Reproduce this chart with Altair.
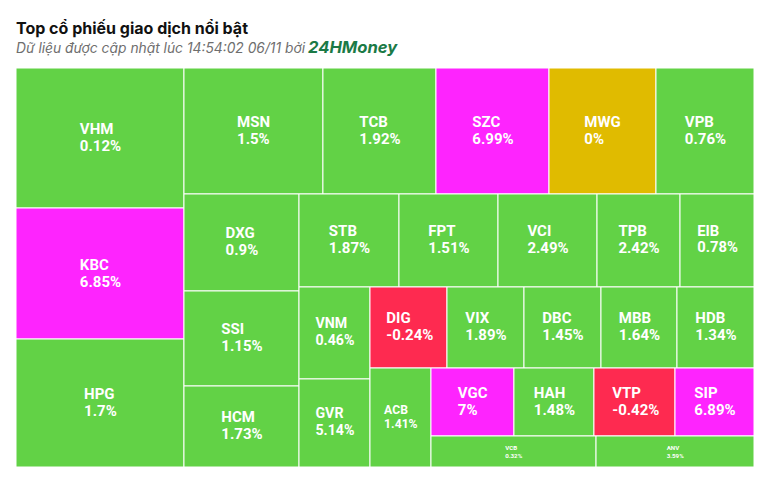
import altair as alt
import pandas as pd

# ---- data ----
tickers = ["VHM", "KBC", "HPG", "MSN", "TCB", "SZC", "MWG", "VPB", "DXG", "SSI",
           "HCM", "STB", "FPT", "VCI", "TPB", "EIB", "VNM", "GVR", "DIG", "VIX",
           "DBC", "MBB", "HDB", "ACB", "VGC", "HAH", "VTP", "SIP", "VCB", "ANV"]
changes = [0.12, 6.85, 1.7, 1.5, 1.92, 6.99, 0, 0.76, 0.9, 1.15,
           1.73, 1.87, 1.51, 2.49, 2.42, 0.78, 0.46, 5.14, -0.24, 1.89,
           1.45, 1.64, 1.34, 1.41, 7, 1.48, -0.42, 6.89, 0.32, 3.59]
# relative traded value (size of each tile)
values = [235.2, 220.1, 215.0, 175.1, 142.4, 142.4, 134.8, 123.5, 111.6, 109.3,
          93.2, 93.0, 92.1, 92.1, 77.2, 68.8, 65.3, 62.5, 62.4, 62.4,
          62.4, 61.6, 62.4, 60.4, 56.4, 54.4, 55.1, 53.7, 51.2, 49.0]

W, H = 738, 399


def status(c):
    if c >= 6.8:
        return "Trần"
    if c == 0:
        return "Tham chiếu"
    if c < 0:
        return "Giảm"
    return "Tăng"


def squarified(vals, x0, y0, w, h):
    """Squarified treemap with alternating strip direction (starts with a column)."""
    total = sum(vals)
    areas = [v * w * h / total for v in vals]
    rects = []
    vertical = True
    i, n = 0, len(areas)

    def worst(row, vert, w, h):
        s = sum(row)
        if vert:
            sw = s / h
            return max(max(sw / (a / sw), (a / sw) / sw) for a in row)
        sh = s / w
        return max(max(sh / (a / sh), (a / sh) / sh) for a in row)

    while i < n:
        row = [areas[i]]
        j = i + 1
        while j < n and worst(row + [areas[j]], vertical, w, h) <= worst(row, vertical, w, h):
            row.append(areas[j])
            j += 1
        s = sum(row)
        if vertical:
            sw = s / h if j < n else w
            yy = y0
            for a in row:
                ah = a / sw
                rects.append((x0, yy, x0 + sw, yy + ah))
                yy += ah
            x0 += sw
            w -= sw
        else:
            sh = s / w if j < n else h
            xx = x0
            for a in row:
                aw = a / sh
                rects.append((xx, y0, xx + aw, y0 + sh))
                xx += aw
            y0 += sh
            h -= sh
        vertical = not vertical
        i = j
    return rects


# approximate Roboto Bold advance widths (em)
CW = {"0": .5615, "1": .5615, "2": .5615, "3": .5615, "4": .5615, "5": .5615,
      "6": .5615, "7": .5615, "8": .5615, "9": .5615, ".": .27, "%": .73, "-": .28,
      "A": .658, "B": .632, "C": .647, "D": .637, "E": .553, "F": .54, "G": .669,
      "H": .708, "I": .293, "K": .63, "M": .873, "N": .708, "P": .632, "R": .619,
      "S": .609, "T": .608, "V": .643, "W": .879, "X": .628, "Z": .599}


def tw(s):
    return sum(CW.get(ch, .6) for ch in s)


rects = squarified(values, 0, 0, W, H)
rows = []
for t, c, v, (a, b, cc, d) in zip(tickers, changes, values, rects):
    pct = f"{c:g}%"
    fs = min(15.0, (cc - a) / 5)
    if 2.4 * fs > (d - b) - 10:
        fs = (d - b) / 5
    lh = fs * 1.2
    bw = max(tw(t), tw(pct)) * fs
    rows.append(dict(ma=t, thay_doi=c, gia_tri=v, x=a, x2=cc, y=b, y2=d,
                     trang_thai=status(c), nhan=f"{t}\n{pct}", fs=fs, lh=lh,
                     lx=(a + cc) / 2 - bw / 2, ly=(b + d) / 2 - lh / 2))
df = pd.DataFrame(rows)

xs = alt.Scale(domain=[0, W], nice=False, zero=False)
ys = alt.Scale(domain=[0, H], nice=False, zero=False, reverse=True)
color = alt.Scale(domain=["Tăng", "Trần", "Tham chiếu", "Giảm"],
                  range=["#62d246", "#fe24fe", "#e0bb00", "#fe2a50"])

base = alt.Chart(df)
tiles = base.mark_rect(stroke="white", strokeWidth=1).encode(
    x=alt.X("x:Q", scale=xs, axis=None),
    x2="x2",
    y=alt.Y("y:Q", scale=ys, axis=None),
    y2="y2",
    color=alt.Color("trang_thai:N", scale=color, legend=None),
)

labels = base.mark_text(align="left", baseline="middle", font="Roboto",
                        fontWeight="bold", color="white", lineBreak="\n").encode(
    x=alt.X("lx:Q", scale=xs),
    y=alt.Y("ly:Q", scale=ys),
    text="nhan:N",
    size=alt.Size("fs:Q", scale=None),
)

hdr = pd.DataFrame({"t": ["Top cổ phiếu giao dịch nổi bật"]})
title = alt.Chart(hdr).mark_text(align="left", baseline="alphabetic", font="Inter",
                                 fontWeight="bold", fontSize=16, color="#111111").encode(
    x=alt.value(0), y=alt.value(-34), text="t:N")
sub = alt.Chart(pd.DataFrame({"t": ["Dữ liệu được cập nhật lúc 14:54:02 06/11 bởi"]})).mark_text(
    align="left", baseline="alphabetic", font="Inter", fontStyle="italic",
    fontSize=13.8, color="#6e6e6e").encode(x=alt.value(0), y=alt.value(-15), text="t:N")
brand = alt.Chart(pd.DataFrame({"t": ["24HMoney"]})).mark_text(
    align="left", baseline="alphabetic", font="Inter", fontStyle="italic",
    fontWeight="bold", fontSize=16.6, color="#1b7a46").encode(
    x=alt.value(292), y=alt.value(-15), text="t:N")

chart = alt.layer(tiles, labels, title, sub, brand).properties(
    width=W, height=H,
    autosize=alt.AutoSizeParams(type="none"),
    padding={"left": 8, "top": 60, "right": 10, "bottom": 12},
    background="white",
).configure_view(stroke=None)

chart.save("out.html", embed_options={"renderer": "svg", "actions": False})
